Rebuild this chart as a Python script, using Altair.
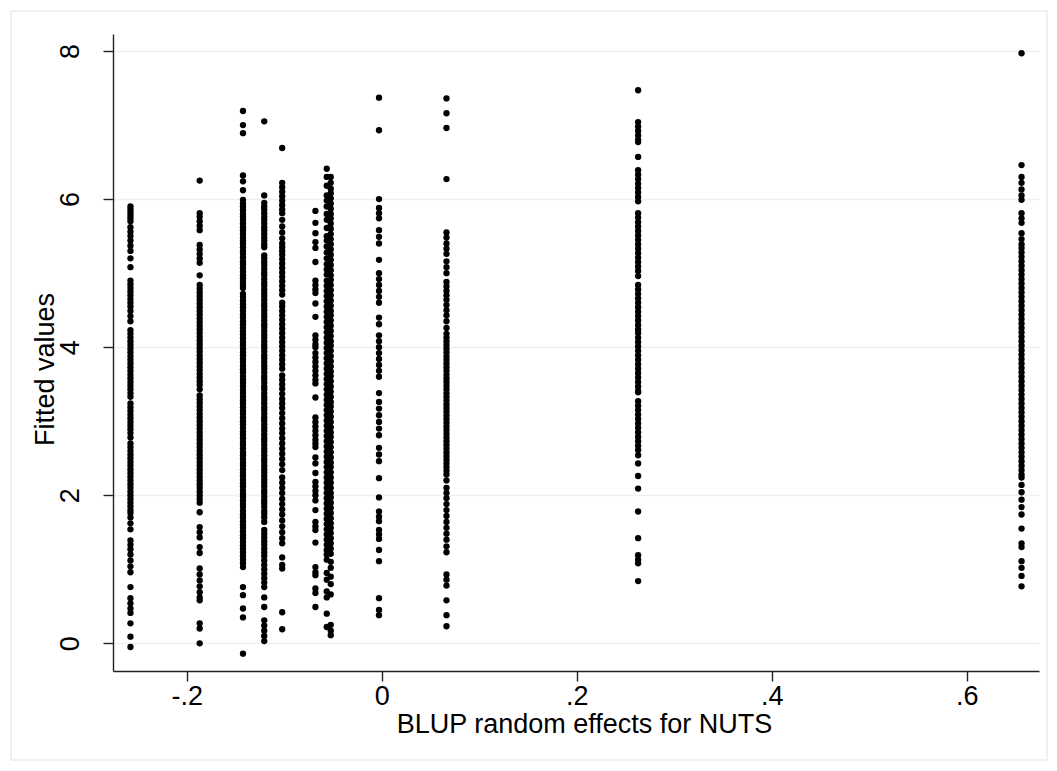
import altair as alt
import pandas as pd

# x positions (BLUP random effects) of the vertical columns of points
col_x = [-0.2577, -0.1867, -0.1423, -0.1205, -0.1021, -0.0680, -0.0564, -0.0523,
         -0.0028, 0.0664, 0.2629, 0.6561]

# Fitted values read for each column
c1 = [5.90, 5.86, 5.82, 5.78, 5.74, 5.70, 5.62, 5.56, 5.50, 5.44, 5.37, 5.30, 5.20, 5.08,
      4.90, 4.85, 4.80, 4.75, 4.70, 4.65, 4.60, 4.55, 4.49, 4.42, 4.35, 4.23, 4.18, 4.13,
      4.08, 4.03, 3.98, 3.93, 3.88, 3.83, 3.78, 3.73, 3.68, 3.63, 3.58, 3.53, 3.48, 3.43,
      3.38, 3.33, 3.24, 3.19, 3.14, 3.09, 3.04, 2.99, 2.94, 2.89, 2.84, 2.78, 2.70, 2.65,
      2.60, 2.55, 2.50, 2.45, 2.40, 2.35, 2.30, 2.25, 2.20, 2.15, 2.10, 2.05, 2.00, 1.95,
      1.90, 1.85, 1.80, 1.76, 1.70, 1.62, 1.54, 1.39, 1.33, 1.27, 1.20, 1.12, 1.04, 0.96,
      0.76, 0.61, 0.54, 0.47, 0.41, 0.27, 0.09, -0.05]
c2 = [6.25, 5.81, 5.76, 5.70, 5.64, 5.58, 5.38, 5.32, 5.26, 5.20, 5.14, 4.97, 4.84, 4.79,
      4.74, 4.69, 4.64, 4.59, 4.54, 4.49, 4.44, 4.39, 4.34, 4.29, 4.24, 4.19, 4.14, 4.09,
      4.04, 3.99, 3.94, 3.89, 3.84, 3.79, 3.74, 3.69, 3.64, 3.59, 3.54, 3.49, 3.43, 3.35,
      3.30, 3.25, 3.20, 3.15, 3.10, 3.05, 3.00, 2.95, 2.90, 2.85, 2.80, 2.75, 2.70, 2.65,
      2.60, 2.55, 2.50, 2.45, 2.40, 2.35, 2.30, 2.25, 2.20, 2.15, 2.10, 2.05, 2.00, 1.95,
      1.90, 1.77, 1.57, 1.50, 1.43, 1.30, 1.22, 1.01, 0.93, 0.85, 0.77, 0.69, 0.62, 0.58,
      0.27, 0.20, 0.00]
c3 = [7.19, 7.00, 6.89, 6.32, 6.24, 6.12, 5.99, 5.94, 5.90, 5.85, 5.80, 5.76, 5.72, 5.67,
      5.62, 5.58, 5.53, 5.48, 5.44, 5.40, 5.35, 5.30, 5.26, 5.21, 5.16, 5.12, 5.07, 5.02,
      4.97, 4.93, 4.88, 4.84, 4.80, 4.72, 4.68, 4.63, 4.58, 4.54, 4.49, 4.44, 4.40, 4.35,
      4.31, 4.26, 4.21, 4.17, 4.12, 4.07, 4.03, 3.98, 3.93, 3.89, 3.84, 3.80, 3.75, 3.70,
      3.66, 3.61, 3.56, 3.52, 3.47, 3.42, 3.38, 3.33, 3.28, 3.24, 3.19, 3.14, 3.10, 3.05,
      3.00, 2.96, 2.91, 2.86, 2.82, 2.77, 2.72, 2.68, 2.63, 2.58, 2.54, 2.49, 2.44, 2.40,
      2.35, 2.30, 2.26, 2.21, 2.16, 2.12, 2.07, 2.02, 1.98, 1.93, 1.88, 1.84, 1.79, 1.74,
      1.70, 1.65, 1.60, 1.56, 1.51, 1.46, 1.42, 1.37, 1.32, 1.28, 1.23, 1.18, 1.13, 1.08,
      1.03, 0.76, 0.65, 0.47, 0.35, -0.14]
c4 = [7.05, 6.05, 5.95, 5.90, 5.86, 5.81, 5.76, 5.72, 5.67, 5.62, 5.58, 5.53, 5.48, 5.44,
      5.39, 5.35, 5.24, 5.20, 5.15, 5.11, 5.06, 5.01, 4.97, 4.92, 4.87, 4.83, 4.78, 4.73,
      4.69, 4.64, 4.59, 4.55, 4.50, 4.45, 4.41, 4.36, 4.31, 4.27, 4.22, 4.17, 4.13, 4.08,
      4.03, 3.99, 3.94, 3.89, 3.85, 3.80, 3.75, 3.71, 3.66, 3.61, 3.57, 3.52, 3.47, 3.43,
      3.38, 3.33, 3.29, 3.24, 3.19, 3.15, 3.10, 3.05, 3.01, 2.96, 2.91, 2.87, 2.82, 2.77,
      2.73, 2.68, 2.63, 2.59, 2.54, 2.49, 2.45, 2.40, 2.35, 2.31, 2.26, 2.21, 2.17, 2.12,
      2.07, 2.03, 1.98, 1.93, 1.89, 1.84, 1.79, 1.75, 1.70, 1.64, 1.53, 1.48, 1.43, 1.38,
      1.33, 1.28, 1.23, 1.18, 1.12, 1.06, 1.00, 0.94, 0.88, 0.82, 0.76, 0.62, 0.49, 0.31,
      0.24, 0.17, 0.10, 0.03]
c5 = [6.69, 6.22, 6.16, 6.10, 6.04, 5.98, 5.92, 5.86, 5.81, 5.72, 5.63, 5.55, 5.47, 5.40,
      5.35, 5.30, 5.25, 5.19, 5.13, 5.07, 5.01, 4.95, 4.89, 4.83, 4.77, 4.71, 4.60, 4.55,
      4.49, 4.43, 4.37, 4.31, 4.25, 4.19, 4.13, 4.07, 4.01, 3.95, 3.89, 3.83, 3.77, 3.71,
      3.62, 3.56, 3.50, 3.44, 3.37, 3.30, 3.24, 3.18, 3.11, 3.04, 2.97, 2.90, 2.84, 2.77,
      2.70, 2.63, 2.56, 2.49, 2.42, 2.34, 2.24, 2.17, 2.10, 2.03, 1.95, 1.88, 1.81, 1.74,
      1.66, 1.58, 1.50, 1.42, 1.35, 1.16, 1.06, 1.01, 0.42, 0.19]
c6 = [5.84, 5.68, 5.54, 5.42, 5.34, 5.15, 4.90, 4.84, 4.78, 4.73, 4.59, 4.41, 4.16, 4.10,
      4.04, 4.00, 3.92, 3.86, 3.80, 3.74, 3.68, 3.62, 3.56, 3.51, 3.32, 3.05, 2.99, 2.93,
      2.87, 2.81, 2.75, 2.70, 2.65, 2.51, 2.43, 2.30, 2.18, 2.12, 2.06, 2.00, 1.93, 1.80,
      1.64, 1.58, 1.53, 1.36, 1.03, 0.96, 0.92, 0.74, 0.68, 0.49]
c7a = [6.41, 6.30, 6.18, 6.05, 5.98, 5.90, 5.80, 5.72, 5.61, 5.50, 5.44, 5.36, 5.28, 5.20,
       5.12, 5.05, 4.98, 4.90, 4.83, 4.76, 4.69, 4.62, 4.55, 4.48, 4.41, 4.34, 4.27, 4.20,
       4.13, 4.06, 3.99, 3.92, 3.85, 3.78, 3.71, 3.64, 3.57, 3.50, 3.43, 3.36, 3.29, 3.22,
       3.15, 3.08, 3.01, 2.94, 2.87, 2.80, 2.73, 2.66, 2.59, 2.52, 2.45, 2.38, 2.31, 2.24,
       2.17, 2.10, 2.03, 1.96, 1.89, 1.82, 1.75, 1.68, 1.61, 1.54, 1.47, 1.40, 1.33, 1.26,
       1.20, 1.13, 0.95, 0.86, 0.70, 0.62, 0.40, 0.22]
c7b = [6.30, 6.22, 6.14, 6.08, 6.01, 5.94, 5.87, 5.80, 5.74, 5.67, 5.60, 5.53, 5.46, 5.39,
       5.32, 5.25, 5.18, 5.11, 5.04, 4.97, 4.91, 4.84, 4.77, 4.70, 4.63, 4.56, 4.49, 4.43,
       4.36, 4.29, 4.22, 4.15, 4.08, 4.02, 3.95, 3.88, 3.81, 3.74, 3.67, 3.61, 3.54, 3.47,
       3.40, 3.33, 3.26, 3.20, 3.13, 3.06, 2.99, 2.92, 2.85, 2.79, 2.72, 2.65, 2.58, 2.51,
       2.44, 2.38, 2.31, 2.24, 2.17, 2.10, 2.03, 1.97, 1.90, 1.83, 1.76, 1.69, 1.62, 1.56,
       1.49, 1.42, 1.35, 1.28, 1.21, 1.10, 1.02, 0.90, 0.80, 0.66, 0.25, 0.17, 0.11]
c8 = [7.37, 6.93, 6.00, 5.88, 5.81, 5.74, 5.58, 5.49, 5.40, 5.18, 5.00, 4.92, 4.84, 4.76,
      4.68, 4.60, 4.40, 4.31, 4.16, 4.08, 4.00, 3.92, 3.84, 3.76, 3.68, 3.60, 3.38, 3.26,
      3.17, 3.08, 2.99, 2.90, 2.81, 2.64, 2.55, 2.46, 2.23, 1.97, 1.78, 1.71, 1.65, 1.53,
      1.47, 1.41, 1.26, 1.11, 0.61, 0.45, 0.38]
c9 = [7.36, 7.16, 6.96, 6.27, 5.55, 5.48, 5.40, 5.33, 5.26, 5.16, 5.08, 5.00, 4.88, 4.82,
      4.76, 4.70, 4.64, 4.57, 4.50, 4.43, 4.35, 4.26, 4.18, 4.13, 4.08, 4.03, 3.98, 3.93,
      3.88, 3.83, 3.78, 3.73, 3.68, 3.63, 3.58, 3.53, 3.48, 3.43, 3.38, 3.33, 3.28, 3.23,
      3.18, 3.13, 3.08, 3.03, 2.98, 2.93, 2.88, 2.83, 2.78, 2.73, 2.68, 2.63, 2.58, 2.53,
      2.48, 2.43, 2.38, 2.33, 2.28, 2.20, 2.10, 2.03, 1.96, 1.88, 1.80, 1.72, 1.64, 1.56,
      1.48, 1.40, 1.31, 1.23, 0.93, 0.86, 0.78, 0.58, 0.38, 0.23]
c10 = [7.47, 7.04, 6.98, 6.92, 6.86, 6.80, 6.77, 6.57, 6.39, 6.33, 6.27, 6.21, 6.15, 6.09,
       6.03, 5.97, 5.81, 5.75, 5.69, 5.63, 5.57, 5.51, 5.45, 5.39, 5.33, 5.27, 5.21, 5.15,
       5.09, 5.03, 4.96, 4.84, 4.78, 4.72, 4.66, 4.60, 4.54, 4.48, 4.42, 4.36, 4.30, 4.24,
       4.19, 4.13, 4.07, 4.01, 3.95, 3.89, 3.83, 3.77, 3.71, 3.65, 3.59, 3.53, 3.47, 3.41,
       3.39, 3.27, 3.21, 3.15, 3.09, 3.03, 2.97, 2.91, 2.85, 2.79, 2.73, 2.67, 2.61, 2.54,
       2.43, 2.26, 2.09, 1.78, 1.42, 1.19, 1.13, 1.08, 0.84]
c11 = [7.97, 6.46, 6.30, 6.22, 6.13, 6.05, 5.99, 5.81, 5.74, 5.68, 5.54, 5.46, 5.39, 5.34,
       5.28, 5.22, 5.16, 5.10, 5.04, 4.98, 4.92, 4.86, 4.80, 4.74, 4.68, 4.62, 4.56, 4.50,
       4.44, 4.38, 4.32, 4.26, 4.20, 4.14, 4.08, 4.02, 3.96, 3.90, 3.84, 3.78, 3.72, 3.66,
       3.60, 3.54, 3.48, 3.42, 3.36, 3.30, 3.24, 3.18, 3.12, 3.06, 3.00, 2.94, 2.88, 2.82,
       2.76, 2.70, 2.64, 2.58, 2.52, 2.46, 2.40, 2.34, 2.28, 2.24, 2.14, 2.04, 1.94, 1.84,
       1.74, 1.55, 1.35, 1.30, 1.11, 1.02, 0.91, 0.77]

columns = [c1, c2, c3, c4, c5, c6, c7a, c7b, c8, c9, c10, c11]

x_ticks = [-0.2, 0.0, 0.2, 0.4, 0.6]
y_ticks = [0, 2, 4, 6, 8]

rows = []
for xv, ys in zip(col_x, columns):
    for yv in ys:
        rows.append({"blup": xv, "fitted": yv})
df = pd.DataFrame(rows)

FONT = "Liberation Sans"

x_label_expr = ("datum.value == 0 ? '0' : (datum.value < 0 ? '-' + substring(format(-datum.value, '.1f'), 1)"
                " : substring(format(datum.value, '.1f'), 1))")

points = alt.Chart(df).mark_circle(size=40, color="black", opacity=1).encode(
    x=alt.X("blup:Q",
            scale=alt.Scale(domain=[-0.2756, 0.674], nice=False, zero=False),
            axis=alt.Axis(values=x_ticks, labelExpr=x_label_expr, grid=False,
                          title="BLUP random effects for NUTS",
                          labelPadding=2, titleX=471, titleY=61,
                          titleBaseline="alphabetic", titleAlign="center")),
    y=alt.Y("fitted:Q",
            scale=alt.Scale(domain=[-0.374, 8.23], nice=False, zero=False),
            axis=alt.Axis(values=y_ticks, grid=True, title="Fitted values",
                          labelAngle=270, labelAlign="center", labelBaseline="alphabetic",
                          labelPadding=25, titleAngle=270, titleX=-60, titleY=335,
                          titleBaseline="alphabetic", titleAlign="center")),
)

frame = alt.Chart(pd.DataFrame({"a": [0]})).mark_rect(
    filled=False, stroke="#E6EEF0", strokeWidth=1.5, clip=False
).encode(
    x=alt.value(-102), x2=alt.value(934), y=alt.value(-23), y2=alt.value(726)
)

chart = alt.layer(frame, points).properties(
    width=926, height=637,
    autosize=alt.AutoSizeParams(type="none"),
    padding={"left": 113, "top": 34, "right": 18, "bottom": 100},
    background="white",
).configure_view(stroke=None).configure_axis(
    domainColor="#222222", domainWidth=1.4, tickColor="#222222", tickWidth=1.4,
    tickSize=10, labelFont=FONT, labelFontSize=27, labelColor="black",
    titleFont=FONT, titleFontSize=27, titleColor="black", titleFontWeight="normal",
    gridColor="#EAF2F3", gridWidth=1.5,
)

chart.save("out.html", embed_options={"renderer": "svg", "actions": False})
